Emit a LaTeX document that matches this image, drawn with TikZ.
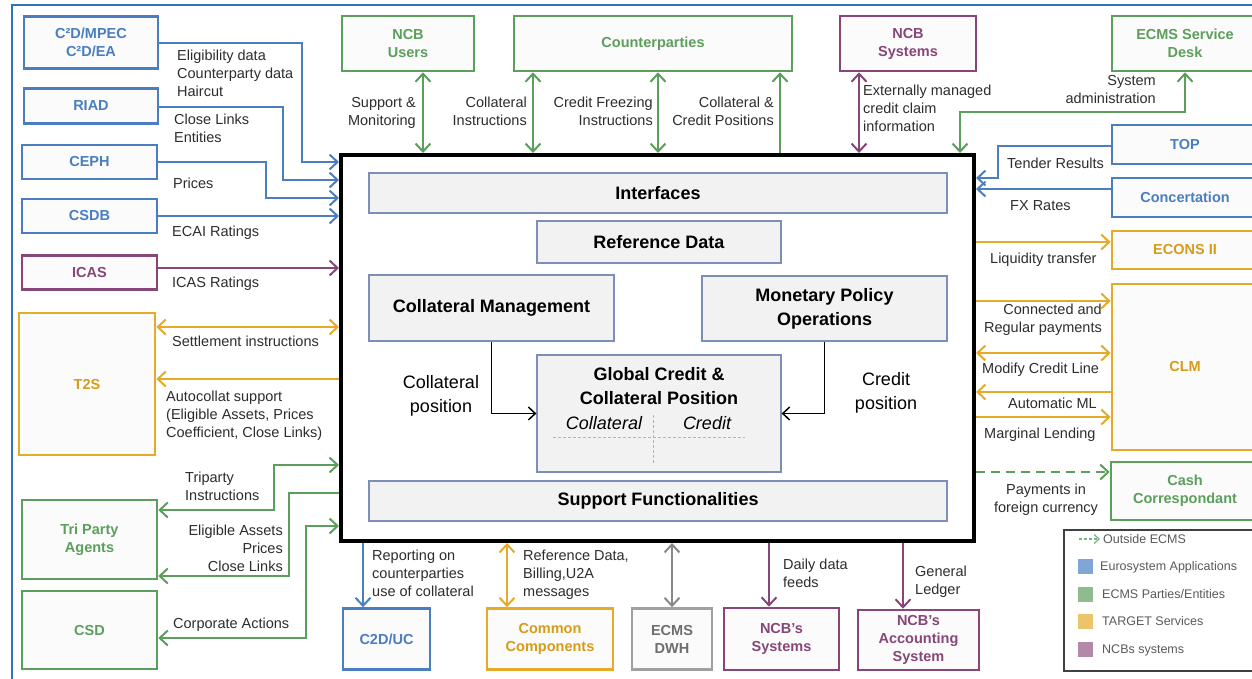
\documentclass[tikz,border=0pt]{standalone}
\usepackage{fontspec}
\setmainfont{Liberation Sans}
\usetikzlibrary{arrows.meta}
\definecolor{cblue}{RGB}{74,126,192}
\definecolor{cgreen}{RGB}{92,158,92}
\definecolor{cgold}{RGB}{231,170,40}
\definecolor{goldtxt}{RGB}{214,156,24}
\definecolor{cpurple}{RGB}{135,70,120}
\definecolor{cgray}{RGB}{160,160,160}
\definecolor{graytxt}{RGB}{110,110,110}
\definecolor{labc}{RGB}{45,45,45}
\definecolor{boxfill}{RGB}{251,251,251}
\definecolor{innerb}{RGB}{125,142,184}
\definecolor{innerf}{RGB}{242,242,242}
\definecolor{framec}{RGB}{46,117,182}
\definecolor{legc}{RGB}{64,64,64}
\definecolor{legtxt}{RGB}{90,90,90}
\definecolor{lgblue}{RGB}{127,166,214}
\definecolor{lggreen}{RGB}{143,188,143}
\definecolor{lggold}{RGB}{236,196,106}
\definecolor{lgpurple}{RGB}{178,138,168}
\newcommand\fLbl{\fontsize{14.5}{17.6}\selectfont}
\newcommand\fTtl{\fontsize{14.5}{18}\selectfont\bfseries}
\newcommand\fInB{\fontsize{18}{24}\selectfont\bfseries}
\newcommand\fInR{\fontsize{18}{24}\selectfont}
\newcommand\fLgd{\fontsize{12.5}{15}\selectfont}
\tikzset{
  ob/.style={draw=#1, text=#1, line width=2.6pt, fill=boxfill, font=\fTtl, align=center, inner sep=0pt},
  ib/.style={draw=innerb, fill=innerf, line width=1.2pt, font=\fInB, align=center, inner sep=0pt, text=black},
  lab/.style={font=\fLbl, text=labc, inner sep=0pt},
  inlab/.style={font=\fInR, text=black, inner sep=0pt, align=center, anchor=base},
  con/.style={line width=2pt},
  inarr/.style={line width=1.5pt, black, >={Straight Barb[length=7pt,width=13pt]}},
  sq/.style={minimum size=15pt, inner sep=0pt, draw=none},
  lgt/.style={font=\fLgd, text=legtxt, inner sep=0pt, anchor=base west},
}
\begin{document}
\begin{tikzpicture}[x=1pt,y=-1pt, >={Straight Barb[length=8pt,width=15pt]}]
\useasboundingbox (0,0) rectangle (1252,678);
\fill[white] (0,0) rectangle (1252,678);
% frame
\draw[framec, line width=1.6pt] (12,690) -- (12,5) -- (1260,5);

% main box
\node[draw=black, line width=4pt, fill=white, minimum width=633pt, minimum height=386pt, inner sep=0pt] (ecms) at (657.5,348) {};

% left boxes
\node[ob=cblue, minimum width=134pt, minimum height=52pt] (c2d) at (91,42.5) {C²D/MPEC\\C²D/EA};
\node[ob=cblue, minimum width=134pt, minimum height=35pt] (riad) at (91,106) {RIAD};
\node[ob=cblue, minimum width=135pt, minimum height=34pt] (ceph) at (89.5,162) {CEPH};
\node[ob=cblue, minimum width=135pt, minimum height=34pt] (csdb) at (89.5,216) {CSDB};
\node[ob=cpurple, minimum width=135pt, minimum height=34pt] (icas) at (89.5,272.5) {ICAS};
\node[ob=cgold, text=goldtxt, minimum width=136pt, minimum height=142pt] (t2s) at (87,384) {T2S};
\node[ob=cgreen, minimum width=135pt, minimum height=79pt] (tpa) at (89.5,539.5) {Tri Party\\Agents};
\node[ob=cgreen, minimum width=135pt, minimum height=78pt] (csd) at (89.5,630) {CSD};

% top boxes
\node[ob=cgreen, minimum width=132pt, minimum height=55pt] (ncbu) at (408,43.5) {NCB\\Users};
\node[ob=cgreen, minimum width=278pt, minimum height=55pt] (cpty) at (653,43.5) {Counterparties};
\node[ob=cpurple, minimum width=136pt, minimum height=55pt] (ncbs) at (908,43.5) {NCB\\Systems};
\node[ob=cgreen, minimum width=146pt, minimum height=55pt] (desk) at (1185,43.5) {ECMS Service\\Desk};

% right boxes
\node[ob=cblue, minimum width=146pt, minimum height=39pt] (top) at (1185,144.5) {TOP};
\node[ob=cblue, minimum width=146pt, minimum height=39pt] (conc) at (1185,197.5) {Concertation};
\node[ob=cgold, text=goldtxt, minimum width=146pt, minimum height=38pt] (econs) at (1185,250) {ECONS II};
\node[ob=cgold, text=goldtxt, minimum width=146pt, minimum height=166pt] (clm) at (1185,367) {CLM};
\node[ob=cgreen, minimum width=148pt, minimum height=58pt] (cash) at (1185,491) {Cash\\Correspondant};

% bottom boxes
\node[ob=cblue, minimum width=87pt, minimum height=61pt] (c2duc) at (386.5,639) {C2D/UC};
\node[ob=cgold, text=goldtxt, minimum width=126pt, minimum height=61pt] (comm) at (550,639) {Common\\Components};
\node[ob=cgray, text=graytxt, minimum width=80pt, minimum height=61pt] (dwh) at (672,639) {ECMS\\DWH};
\node[ob=cpurple, minimum width=115pt, minimum height=62pt] (ncbs2) at (781.5,639) {NCB’s\\Systems};
\node[ob=cpurple, minimum width=121pt, minimum height=60pt] (acct) at (918.5,640) {NCB’s\\Accounting\\System};

% inner boxes
\node[ib, minimum width=578pt, minimum height=40pt] (ifc) at (658,193) {Interfaces};
\node[ib, minimum width=244pt, minimum height=42pt] (ref) at (659,242) {Reference Data};
\node[ib, minimum width=245pt, minimum height=66pt] (cm) at (491.5,308) {Collateral Management};
\node[ib, minimum width=245pt, minimum height=65pt] (mpo) at (824.5,308.5) {Monetary Policy\\Operations};
\node[ib, minimum width=244pt, minimum height=117pt] (gcp) at (659,413.5) {};
\node[ib, minimum width=578pt, minimum height=40pt] (sup) at (658,501) {Support Functionalities};
\node[font=\fInB, align=center, anchor=base, inner sep=0pt] (gcpt) at (659,404.5) {Global Credit \&\\Collateral Position};
\node[inlab, font=\fInR\itshape] (gcol) at (604,429.5) {Collateral};
\node[inlab, font=\fInR\itshape] (gcre) at (707,429.5) {Credit};
\draw[cgray!80, line width=1pt, dash pattern=on 3pt off 2pt] (553,437) -- (745,437);
\draw[cgray!80, line width=1pt, dash pattern=on 3pt off 2pt] (653,415) -- (653,463);
\draw[inarr, ->] (cm.south) |- (gcp.west);
\draw[inarr, ->] (mpo.south) |- (gcp.east);
\node[inlab] (lcp) at (441,412.5) {Collateral\\position};
\node[inlab] (lcr) at (886,409.5) {Credit\\position};

% left connectors
\draw[con, cblue, ->] (c2d.east |- 0,43) -| (302,162) -- (ecms.west |- 0,162);
\draw[con, cblue, ->] (riad.east |- 0,107) -| (283,180) -- (ecms.west |- 0,180);
\draw[con, cblue, ->] (ceph.east |- 0,162) -| (266,198) -- (ecms.west |- 0,198);
\draw[con, cblue, ->] (csdb.east |- 0,216) -- (ecms.west |- 0,216);
\draw[con, cpurple, ->] (icas.east |- 0,268) -- (ecms.west |- 0,268);
\draw[con, cgold, <->] (t2s.east |- 0,327) -- (ecms.west |- 0,327);
\draw[con, cgold, ->] (ecms.west |- 0,379) -- (t2s.east |- 0,379);
\draw[con, cgreen, <->] (tpa.east |- 0,510) -| (274,465) -- (ecms.west |- 0,465);
\draw[con, cgreen, ->] (ecms.west |- 0,493) -| (289,576) -- (tpa.east |- 0,576);
\draw[con, cgreen, <->] (csd.east |- 0,638) -| (306,526) -- (ecms.west |- 0,526);

% top connectors
\draw[con, cgreen, <->] (ncbu.south -| 423,0) -- (ecms.north -| 423,0);
\draw[con, cgreen, <->] (cpty.south -| 533,0) -- (ecms.north -| 533,0);
\draw[con, cgreen, <->] (cpty.south -| 658,0) -- (ecms.north -| 658,0);
\draw[con, cgreen, ->] (ecms.north -| 780,0) -- (cpty.south -| 780,0);
\draw[con, cpurple, <->] (ncbs.south -| 859,0) -- (ecms.north -| 859,0);
\draw[con, cgreen, <->] (ecms.north -| 960,0) |- (1185,112) -- (desk.south -| 1185,0);

% right connectors
\draw[con, cblue, ->] (top.west |- 0,146) -| (998,178) -- (ecms.east |- 0,178);
\draw[con, cblue, ->] (conc.west |- 0,189) -- (ecms.east |- 0,189);
\draw[con, cgold, ->] (ecms.east |- 0,242) -- (econs.west |- 0,242);
\draw[con, cgold, ->] (ecms.east |- 0,301) -- (clm.west |- 0,301);
\draw[con, cgold, <->] (ecms.east |- 0,353) -- (clm.west |- 0,353);
\draw[con, cgold, ->] (clm.west |- 0,392) -- (ecms.east |- 0,392);
\draw[con, cgold, ->] (ecms.east |- 0,417) -- (clm.west |- 0,417);
\draw[con, cgreen, ->, dash pattern=on 9pt off 6pt] (ecms.east |- 0,472) -- (cash.west |- 0,472);

% bottom connectors
\draw[con, cblue, ->] (ecms.south -| 363,0) -- (c2duc.north -| 363,0);
\draw[con, cgold, <->] (ecms.south -| 507,0) -- (comm.north -| 507,0);
\draw[con, cgray!85!black, <->] (ecms.south -| 672,0) -- (dwh.north -| 672,0);
\draw[con, cpurple, ->] (ecms.south -| 769,0) -- (ncbs2.north -| 769,0);
\draw[con, cpurple, ->] (ecms.south -| 903,0) -- (acct.north -| 903,0);

% labels left (base = baseline of last line)
\node[lab, anchor=base west, align=left] (l1) at (177,96) {Eligibility data\\Counterparty data\\Haircut};
\node[lab, anchor=base west, align=left] (l2) at (174,142) {Close Links\\Entities};
\node[lab, anchor=base west] (l3) at (173,188) {Prices};
\node[lab, anchor=base west] (l4) at (172,236) {ECAI Ratings};
\node[lab, anchor=base west] (l5) at (172,287) {ICAS Ratings};
\node[lab, anchor=base west] (l6) at (172,346) {Settlement instructions};
\node[lab, anchor=base west, align=left] (l7) at (166,437) {Autocollat support\\(Eligible Assets, Prices\\Coefficient, Close Links)};
\node[lab, anchor=base west, align=left] (l8) at (185,500) {Triparty\\Instructions};
\node[lab, anchor=base east, align=right] (l9) at (283,571) {Eligible Assets\\Prices\\Close Links};
\node[lab, anchor=base west] (l10) at (173,628) {Corporate Actions};

% labels top
\node[lab, anchor=base east, align=right] (t1) at (416,125) {Support \&\\Monitoring};
\node[lab, anchor=base east, align=right] (t2) at (527,125) {Collateral\\Instructions};
\node[lab, anchor=base east, align=right] (t3) at (653,125) {Credit Freezing\\Instructions};
\node[lab, anchor=base east, align=right] (t4) at (774,125) {Collateral \&\\Credit Positions};
\node[lab, anchor=base west, align=left] (t5) at (863,131) {Externally managed\\credit claim\\information};
\node[lab, anchor=base east, align=right] (t6) at (1156,103) {System\\administration};

% labels right
\node[lab, anchor=base west] (r1) at (1007,168) {Tender Results};
\node[lab, anchor=base west] (r2) at (1010,210) {FX Rates};
\node[lab, anchor=base west] (r3) at (990,263) {Liquidity transfer};
\node[lab, anchor=base east, align=right] (r4) at (1102,332) {Connected and\\Regular payments};
\node[lab, anchor=base west] (r5) at (982,373) {Modify Credit Line};
\node[lab, anchor=base east] (r6) at (1097,408) {Automatic ML};
\node[lab, anchor=base west] (r7) at (984,438) {Marginal Lending};
\node[lab, anchor=base, align=center] (r8) at (1046,512) {Payments in\\foreign currency};

% labels bottom
\node[lab, anchor=base west, align=left] (b1) at (372,596) {Reporting on\\counterparties\\use of collateral};
\node[lab, anchor=base west, align=left] (b2) at (523,596) {Reference Data,\\Billing,U2A\\messages};
\node[lab, anchor=base west, align=left] (b3) at (783,587) {Daily data\\feeds};
\node[lab, anchor=base west, align=left] (b4) at (915,594) {General\\Ledger};

% legend
\node[draw=legc, line width=1.8pt, fill=white, minimum width=198pt, minimum height=141pt, inner sep=0pt] (lg) at (1163,600.5) {};
\coordinate (lgs) at (1079,539);
\coordinate (lge) at (1100,539);
\draw[cgreen!80, line width=1.2pt, dash pattern=on 3pt off 2pt, -{Straight Barb[length=5pt,width=9pt]}] (lgs) -- (lge);
\node[lgt] (lg0) at (1103,543.5) {Outside ECMS};
\node[sq, fill=lgblue] (sqb) at (1085.5,566) {};
\node[sq, fill=lggreen] (sqg) at (1085.5,594) {};
\node[sq, fill=lggold] (sqy) at (1085.5,621) {};
\node[sq, fill=lgpurple] (sqp) at (1085.5,649) {};
\node[lgt] (lg1) at (1100,570.5) {Eurosystem Applications};
\node[lgt] (lg2) at (1102,598.5) {ECMS Parties/Entities};
\node[lgt] (lg3) at (1102,625.5) {TARGET Services};
\node[lgt] (lg4) at (1102,653.5) {NCBs systems};
\end{tikzpicture}
\end{document}
